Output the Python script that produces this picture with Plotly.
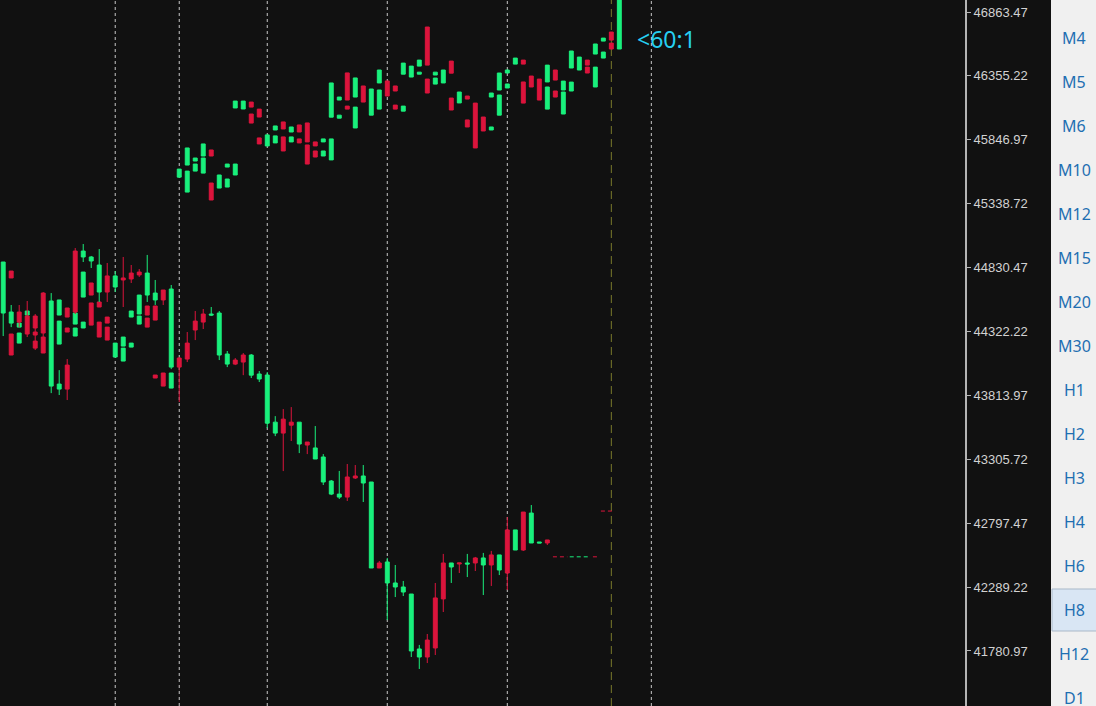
import plotly.graph_objects as go

BG = "#111111"
UP_RED = "#DC143C"
DOWN_GREEN = "#19F07C"
TEXT_GRAY = "#D2D2D2"
BTN_BLUE = "#1F6FB2"

W, H = 1096, 706
PLOT_W = 965

# main H8 candles (red = rising, green = falling, as on the terminal)
opens = [44875, 44477, 44397, 44302, 44350, 44310, 44565, 43904, 43864, 44477,
         44962, 44915, 44851, 44636, 44764, 44732, 44740, 44772, 44787, 44628,
         44573, 44660, 44039, 44103, 44334, 44397, 44461, 44469, 44143, 44063,
         44079, 44135, 43984, 43976, 43601, 43514, 43577, 43601, 43419, 43396,
         43324, 43133, 43029, 43005, 43157, 43173, 43125, 42441, 42489, 42322,
         42290, 42234, 41797, 41733, 41805, 42195, 42481, 42473, 42481, 42481,
         42521, 42465, 42545, 42401, 42744, 42584, 42878, 42648, 42640]
highs = [44875, 44533, 44533, 44565, 44461, 44636, 44628, 44015, 44103, 44986,
         45018, 44923, 44978, 44867, 44803, 44915, 44851, 44819, 44931, 44732,
         44652, 44692, 44119, 44318, 44485, 44501, 44517, 44485, 44167, 44111,
         44151, 44143, 44008, 44000, 43649, 43705, 43721, 43601, 43443, 43570,
         43347, 43141, 43213, 43268, 43260, 43260, 43125, 42497, 42521, 42465,
         42338, 42234, 41829, 41916, 42322, 42553, 42481, 42481, 42553, 42529,
         42561, 42577, 42545, 42846, 42744, 42886, 42942, 42648, 42664]
lows = [44286, 44357, 44357, 44278, 44175, 44278, 43832, 43817, 43777, 44461,
        44875, 44827, 44557, 44557, 44636, 44517, 44708, 44756, 44557, 44533,
        44533, 44023, 43761, 44079, 44254, 44342, 44445, 44095, 44039, 44055,
        43975, 43952, 43920, 43554, 43490, 43212, 43451, 43355, 43347, 43308,
        43101, 43021, 42990, 42974, 43149, 42966, 42441, 42441, 42027, 42210,
        42218, 41733, 41638, 41685, 41749, 42091, 42322, 42401, 42369, 42417,
        42226, 42298, 42385, 42266, 42584, 42576, 42640, 42640, 42624]
closes = [44469, 44389, 44477, 44445, 44445, 44628, 43888, 43864, 44055, 44962,
          44915, 44883, 44636, 44764, 44676, 44748, 44787, 44795, 44612, 44573,
          44652, 44039, 44111, 44230, 44405, 44461, 44453, 44135, 44063, 44095,
          44135, 43975, 43944, 43593, 43514, 43625, 43601, 43427, 43443, 43308,
          43125, 43029, 43005, 43165, 43173, 43117, 42441, 42481, 42322, 42290,
          42250, 41781, 41733, 41868, 42203, 42481, 42449, 42481, 42473, 42521,
          42465, 42545, 42425, 42744, 42584, 42886, 42640, 42640, 42664]
bar_idx = list(range(len(opens)))

# broken body pieces drawn by the overlaid series (1 = red, 0 = green)
frag_idx = [1, 1, 2, 2, 3, 4, 4, 5, 7, 7, 8, 8, 9, 9, 10, 10, 11, 11, 12, 12,
            13, 13, 14, 15, 15, 16, 16, 17, 17, 18, 18, 19, 19, 20, 21,
            22, 23, 23, 24, 24, 25, 25, 26, 26, 27, 28, 28, 29, 29, 30,
            31, 31, 32, 32, 33, 34, 34, 35, 35, 36, 36, 37, 37, 38, 38, 39, 39,
            40, 40, 41, 41, 42, 42, 43, 43, 44, 44, 45, 46, 47, 47, 48, 49, 49,
            50, 50, 51, 52, 52, 53, 53, 54, 54, 55, 56, 56, 57, 58, 58, 59, 60,
            61, 61, 62, 62, 63, 63, 64, 65, 65, 66, 67, 68, 68, 69, 69, 70, 70,
            71, 71, 72, 73, 73, 74, 74, 75, 75, 76, 76, 77]
frag_top = [44803, 44302, 44389, 44310, 44485, 44318, 44246, 44278, 44573, 44405,
            44509, 44350, 44469, 44350, 44795, 44397, 44708, 44549, 44557, 44397,
            44437, 44357, 44230, 44278, 44190, 44485, 44230, 44612, 44445, 44525,
            44429, 44525, 43976, 43992, 43992,
            45614, 45782, 45598, 45702, 45654, 45814, 45702, 45766, 45503, 45567,
            45654, 45535, 46155, 45654, 46155,
            46147, 46052, 46091, 45862, 45886, 45957, 45878, 45989, 45870, 45949,
            45870, 45965, 45854, 45981, 45806, 45830, 45758,
            45854, 45758, 46299, 45854, 46187, 46043, 46379, 46115, 46339, 46107,
            46275, 46251, 46402, 46243, 46315, 46275, 46123,
            46457, 46115, 46433, 46481, 46385, 46744, 46330, 46385, 46338, 46402,
            46473, 46179, 46227, 46195, 46005, 46139, 46028,
            46219, 45949, 46378, 46203, 46402, 46291, 46497, 46481, 46307, 46354,
            46330, 46441, 46267, 46402, 46235, 46314, 46227,
            46553, 46306, 46505, 46481, 46425, 46609, 46425, 46656, 46545, 46704,
            46616, 47050]
frag_bot = [44748, 44135, 44357, 44230, 44453, 44294, 44190, 44151, 44453, 44222,
            44437, 44318, 44381, 44286, 44596, 44350, 44612, 44373, 44517, 44278,
            44389, 44254, 44119, 44206, 44087, 44437, 44198, 44461, 44381, 44453,
            44357, 44413, 43952, 43888, 43872,
            45550, 45646, 45431, 45678, 45598, 45718, 45582, 45718, 45368, 45463,
            45630, 45471, 46100, 45567, 46092,
            46107, 45980, 46028, 45814, 45798, 45925, 45822, 45933, 45758, 45909,
            45830, 45909, 45822, 45830, 45654, 45798, 45710,
            45830, 45718, 46027, 45687, 46163, 46019, 46163, 46091, 46187, 45941,
            46147, 46043, 46299, 46091, 46195, 46235, 46091,
            46369, 46075, 46346, 46433, 46369, 46441, 46219, 46362, 46290, 46299,
            46377, 46084, 46140, 46171, 45949, 45782, 45917,
            46187, 45925, 46243, 46043, 46378, 46259, 46449, 46449, 46139, 46267,
            46163, 46307, 46091, 46322, 46187, 46243, 46052,
            46418, 46235, 46402, 46441, 46378, 46529, 46267, 46632, 46497, 46640,
            46569, 46569]
frag_up = [1, 1, 0, 0, 0, 1, 1, 1, 0, 0, 1, 1, 0, 0, 0, 0, 1, 1, 1, 1,
           1, 1, 0, 0, 0, 0, 0, 0, 0, 1, 1, 1, 1, 1, 0,
           0, 0, 0, 0, 0, 0, 0, 1, 1, 0, 0, 0, 0, 0, 0,
           1, 1, 1, 1, 0, 0, 0, 1, 1, 0, 0, 1, 1, 1, 1, 1, 1,
           0, 0, 0, 0, 0, 0, 1, 1, 0, 0, 1, 0, 0, 0, 1, 1, 1,
           0, 0, 0, 0, 0, 1, 1, 0, 0, 0, 1, 1, 0, 1, 1, 1, 1,
           0, 0, 0, 0, 0, 0, 0, 1, 1, 1, 1, 0, 0, 1, 1, 0, 0,
           0, 0, 0, 1, 1, 0, 0, 0, 0, 1, 1, 0]

# period separators and the current-bar marker (bar index)
separators = [14, 22, 33, 48, 63, 81]
current_bar = 76

# pending order levels drawn as short dashes
level_low = 42530
level_high = 42894

y_ticks = [41780.97, 42289.22, 42797.47, 43305.72, 43813.97, 44322.22,
           44830.47, 45338.72, 45846.97, 46355.22, 46863.47]
timeframes = ["M4", "M5", "M6", "M10", "M12", "M15", "M20", "M30",
              "H1", "H2", "H3", "H4", "H6", "H8", "H12", "D1"]
active_tf = "H8"

f_open = [b if u else t for t, b, u in zip(frag_top, frag_bot, frag_up)]
f_close = [t if u else b for t, b, u in zip(frag_top, frag_bot, frag_up)]

fig = go.Figure()
fig.add_trace(go.Candlestick(
    x=frag_idx, open=f_open, high=frag_top, low=frag_bot, close=f_close,
    increasing=dict(line=dict(color=UP_RED, width=1), fillcolor=UP_RED),
    decreasing=dict(line=dict(color=DOWN_GREEN, width=1), fillcolor=DOWN_GREEN),
    showlegend=False, hoverinfo="skip",
))
fig.add_trace(go.Candlestick(
    x=bar_idx, open=opens, high=highs, low=lows, close=closes,
    increasing=dict(line=dict(color=UP_RED, width=1), fillcolor=UP_RED),
    decreasing=dict(line=dict(color=DOWN_GREEN, width=1), fillcolor=DOWN_GREEN),
    showlegend=False,
))

for s in separators:
    fig.add_shape(type="line", x0=s, x1=s, xref="x", y0=0, y1=1, yref="paper",
                  line=dict(color="#C8C8C8", width=1, dash="3px,3px"), layer="below")
fig.add_shape(type="line", x0=current_bar, x1=current_bar, xref="x", y0=0, y1=1,
              yref="paper", line=dict(color="#7A7A2C", width=1, dash="8px,5px"),
              layer="below")

for x0, x1, lvl, col in [(68.7, 70.5, level_low, UP_RED), (70.8, 73.3, level_low, DOWN_GREEN),
                         (73.7, 74.3, level_low, UP_RED), (74.7, 76.3, level_high, UP_RED)]:
    fig.add_shape(type="line", x0=x0, x1=x1, y0=lvl, y1=lvl,
                  line=dict(color=col, width=1, dash="4px,3px"))

# timeframe panel on the right
px = lambda v: v / PLOT_W
fig.add_shape(type="rect", xref="paper", yref="paper", x0=px(1051), x1=px(1097),
              y0=0, y1=1, fillcolor="#F0F0F0", line=dict(width=0))
for k, tf in enumerate(timeframes):
    yc = 38 + 44 * k
    if tf == active_tf:
        fig.add_shape(type="rect", xref="paper", yref="paper",
                      x0=px(1052), x1=px(1097), y0=1 - (yc + 21) / H, y1=1 - (yc - 21) / H,
                      fillcolor="#D9E6F4", line=dict(color="#A9B8C8", width=1))
    fig.add_annotation(text=tf, xref="paper", yref="paper", x=px(1074), y=1 - yc / H,
                       showarrow=False, xanchor="center", yanchor="middle",
                       font=dict(family="Noto Sans", size=16, color=BTN_BLUE))

fig.add_annotation(text="<60:1", xref="paper", yref="paper", x=px(635), y=1 - 39 / H,
                   showarrow=False, xanchor="left", yanchor="middle",
                   font=dict(family="Noto Sans", size=23, color="#26CFF0"))

fig.update_layout(
    width=W, height=H,
    margin=dict(l=0, r=W - PLOT_W, t=0, b=0, pad=0),
    plot_bgcolor=BG, paper_bgcolor=BG,
    boxmode="overlay",
    xaxis=dict(range=[-0.4, 120.2], visible=False, rangeslider=dict(visible=False)),
    yaxis=dict(
        range=[41343.4, 46958.9], side="right", showgrid=False, zeroline=False,
        tickvals=y_ticks, ticktext=[f"{v:.2f}" for v in y_ticks],
        ticks="outside", ticklen=4, tickcolor="#B4B4B4",
        tickfont=dict(family="Liberation Sans", size=13, color=TEXT_GRAY),
        showline=True, linecolor="#B4B4B4", linewidth=2,
    ),
)

fig.write_html("out.html", config={"displayModeBar": False},
               post_script="document.body.style.margin='0';")
